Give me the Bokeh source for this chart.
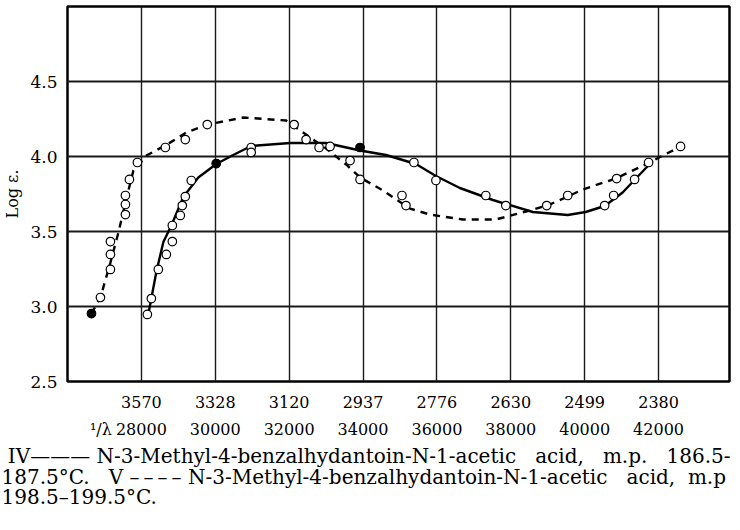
from bokeh.plotting import figure
from bokeh.models import Range1d, FixedTicker, LinearAxis, Title
from bokeh.embed import file_html
from bokeh.resources import INLINE

# ---- data ----
wavenumber_ticks = [28000, 30000, 32000, 34000, 36000, 38000, 40000, 42000]
wavelength_labels = ["3570", "3328", "3120", "2937", "2776", "2630", "2499", "2380"]
wavenumber_labels = ["28000", "30000", "32000", "34000", "36000", "38000", "40000", "42000"]
inv_lambda_tick = 26905          # where the "1/λ" prefix sits on the scale
inv_lambda_label = "\u00b9/\u03bb"
log_eps_ticks = [2.5, 3.0, 3.5, 4.0, 4.5]
log_eps_labels = ["2.5", "3.0", "3.5", "4.0", "4.5"]

# Curve IV (solid)
iv_curve_x = [28189, 28405, 28595, 28811, 29135, 29541, 30027, 30486, 30973, 32027,
              33000, 33919, 34622, 35432, 35973, 36622, 37514, 38595, 39541, 40027,
              40541, 41027, 41838]
iv_curve_y = [2.95, 3.23, 3.43, 3.54, 3.73, 3.86, 3.95, 4.01, 4.07, 4.09,
              4.09, 4.04, 4.01, 3.95, 3.87, 3.79, 3.71, 3.63, 3.61, 3.63,
              3.67, 3.76, 3.97]

# Curve V (dashed)
v_curve_x = [26649, 26892, 27162, 27378, 27568, 27784, 28135, 28649, 29216, 29784,
             30757, 31919, 32568, 33000, 33541, 33919, 34541, 35270, 35811, 36703,
             37595, 38514, 39054, 39541, 39946, 40838, 41757, 42595]
v_curve_y = [2.953, 3.06, 3.293, 3.493, 3.693, 3.907, 4.007, 4.073, 4.16, 4.213,
             4.26, 4.24, 4.127, 4.053, 3.947, 3.86, 3.773, 3.653, 3.613, 3.58,
             3.58, 3.64, 3.68, 3.733, 3.78, 3.853, 3.96, 4.067]

# Measured points, compound IV
iv_pts_x = [28162, 28270, 28459, 28676, 28838, 28838, 29054, 29108, 29189, 29351,
            30027, 30973, 30973, 33919, 35378, 35973, 37324, 37865, 40541, 40784,
            41351, 41730]
iv_pts_y = [2.947, 3.053, 3.247, 3.347, 3.433, 3.54, 3.607, 3.673, 3.733, 3.84,
            3.953, 4.06, 4.027, 4.06, 3.96, 3.84, 3.74, 3.673, 3.673, 3.74,
            3.847, 3.96]

# Measured points, compound V
v_pts_x = [26649, 26892, 27162, 27162, 27162, 27568, 27568, 27568, 27676, 27892,
           28649, 29189, 29784, 32135, 32459, 32811, 33108, 33649, 33919, 35054,
           35162, 38973, 39541, 40865, 42595]
v_pts_y = [2.953, 3.06, 3.247, 3.347, 3.433, 3.613, 3.68, 3.74, 3.847, 3.96,
           4.06, 4.113, 4.213, 4.213, 4.113, 4.06, 4.067, 3.973, 3.847, 3.74,
           3.673, 3.673, 3.74, 3.853, 4.067]

# Points printed as filled dots
filled_x = [26649, 33919, 30027]
filled_y = [2.953, 4.06, 3.953]

NB = "\u00a0"
TS = "\u2009"
caption_lines = [
    NB + "IV\u2014\u2014\u2014" + NB + "N-3-Methyl-4-benzalhydantoin-N-1-acetic" + NB * 3
    + "acid," + NB * 3 + "m.p." + NB * 3 + "186.5-",
    "187.5\u00b0C." + NB * 3 + "V" + NB + TS.join(["\u2013"] * 4) + NB
    + "N-3-Methyl-4-benzalhydantoin-N-1-acetic" + NB * 3 + "acid," + NB * 2 + "m.p",
    "198.5\u2013199.5\u00b0C.",
]

FONT = "DejaVu Serif"

p = figure(width=731, height=514,
           x_range=Range1d(26000, 43920), y_range=Range1d(2.5, 5.0),
           output_backend="svg", toolbar_location=None,
           min_border_left=66, min_border_right=2, min_border_top=6, min_border_bottom=133)

p.background_fill_color = "white"
p.border_fill_color = "white"
p.outline_line_color = "black"
p.outline_line_width = 2.5

# grid
p.xgrid.ticker = FixedTicker(ticks=wavenumber_ticks)
p.ygrid.ticker = FixedTicker(ticks=log_eps_ticks[1:])
p.xgrid.grid_line_color = "#1a1a1a"
p.xgrid.grid_line_width = 1.4
p.ygrid.grid_line_color = "#1a1a1a"
p.ygrid.grid_line_width = 1.8

def style_axis(ax, size):
    ax.axis_line_color = None
    ax.major_tick_line_color = None
    ax.minor_tick_line_color = None
    ax.major_tick_out = 0
    ax.major_tick_in = 0
    ax.minor_tick_out = 0
    ax.minor_tick_in = 0
    ax.major_label_text_font = FONT
    ax.major_label_text_font_size = size
    ax.major_label_text_color = "black"

# y axis
ya = p.yaxis[0]
style_axis(ya, "17px")
ya.ticker = FixedTicker(ticks=log_eps_ticks)
ya.major_label_overrides = {t: l for t, l in zip(log_eps_ticks, log_eps_labels)}
ya.major_label_standoff = 10
ya.axis_label = "Log \u03b5."
ya.axis_label_text_font = FONT
ya.axis_label_text_font_size = "16px"
ya.axis_label_text_font_style = "normal"
ya.axis_label_text_color = "black"
ya.axis_label_standoff = 5

# x axis: wavelength row
xa = p.xaxis[0]
style_axis(xa, "16px")
xa.ticker = FixedTicker(ticks=wavenumber_ticks)
xa.major_label_overrides = {t: l for t, l in zip(wavenumber_ticks, wavelength_labels)}
xa.major_label_standoff = 14

# x axis: wavenumber row (with the 1/lambda prefix)
xa2 = LinearAxis(ticker=FixedTicker(ticks=[inv_lambda_tick] + wavenumber_ticks))
style_axis(xa2, "16px")
ov = {t: l for t, l in zip(wavenumber_ticks, wavenumber_labels)}
ov[inv_lambda_tick] = inv_lambda_label
xa2.major_label_overrides = ov
xa2.major_label_standoff = 9
p.add_layout(xa2, "below")

# caption
cap = Title(text="\n".join(caption_lines), align="left", offset=-66, standoff=2,
            text_font=FONT, text_font_size="20px", text_font_style="normal",
            text_color="black", text_line_height=0.86)
p.add_layout(cap, "below")

# curves
p.line(iv_curve_x, iv_curve_y, line_color="black", line_width=2.4)
p.line(v_curve_x, v_curve_y, line_color="black", line_width=2.4, line_dash="7 6")

# markers
p.scatter(v_pts_x, v_pts_y, marker="circle", size=8.5, fill_color="white",
          line_color="black", line_width=1.2)
p.scatter(iv_pts_x, iv_pts_y, marker="circle", size=8.5, fill_color="white",
          line_color="black", line_width=1.2)
p.scatter(filled_x, filled_y, marker="circle", size=8, fill_color="black",
          line_color="black", line_width=1.2)

open("out.html", "w").write(file_html(p, INLINE))
